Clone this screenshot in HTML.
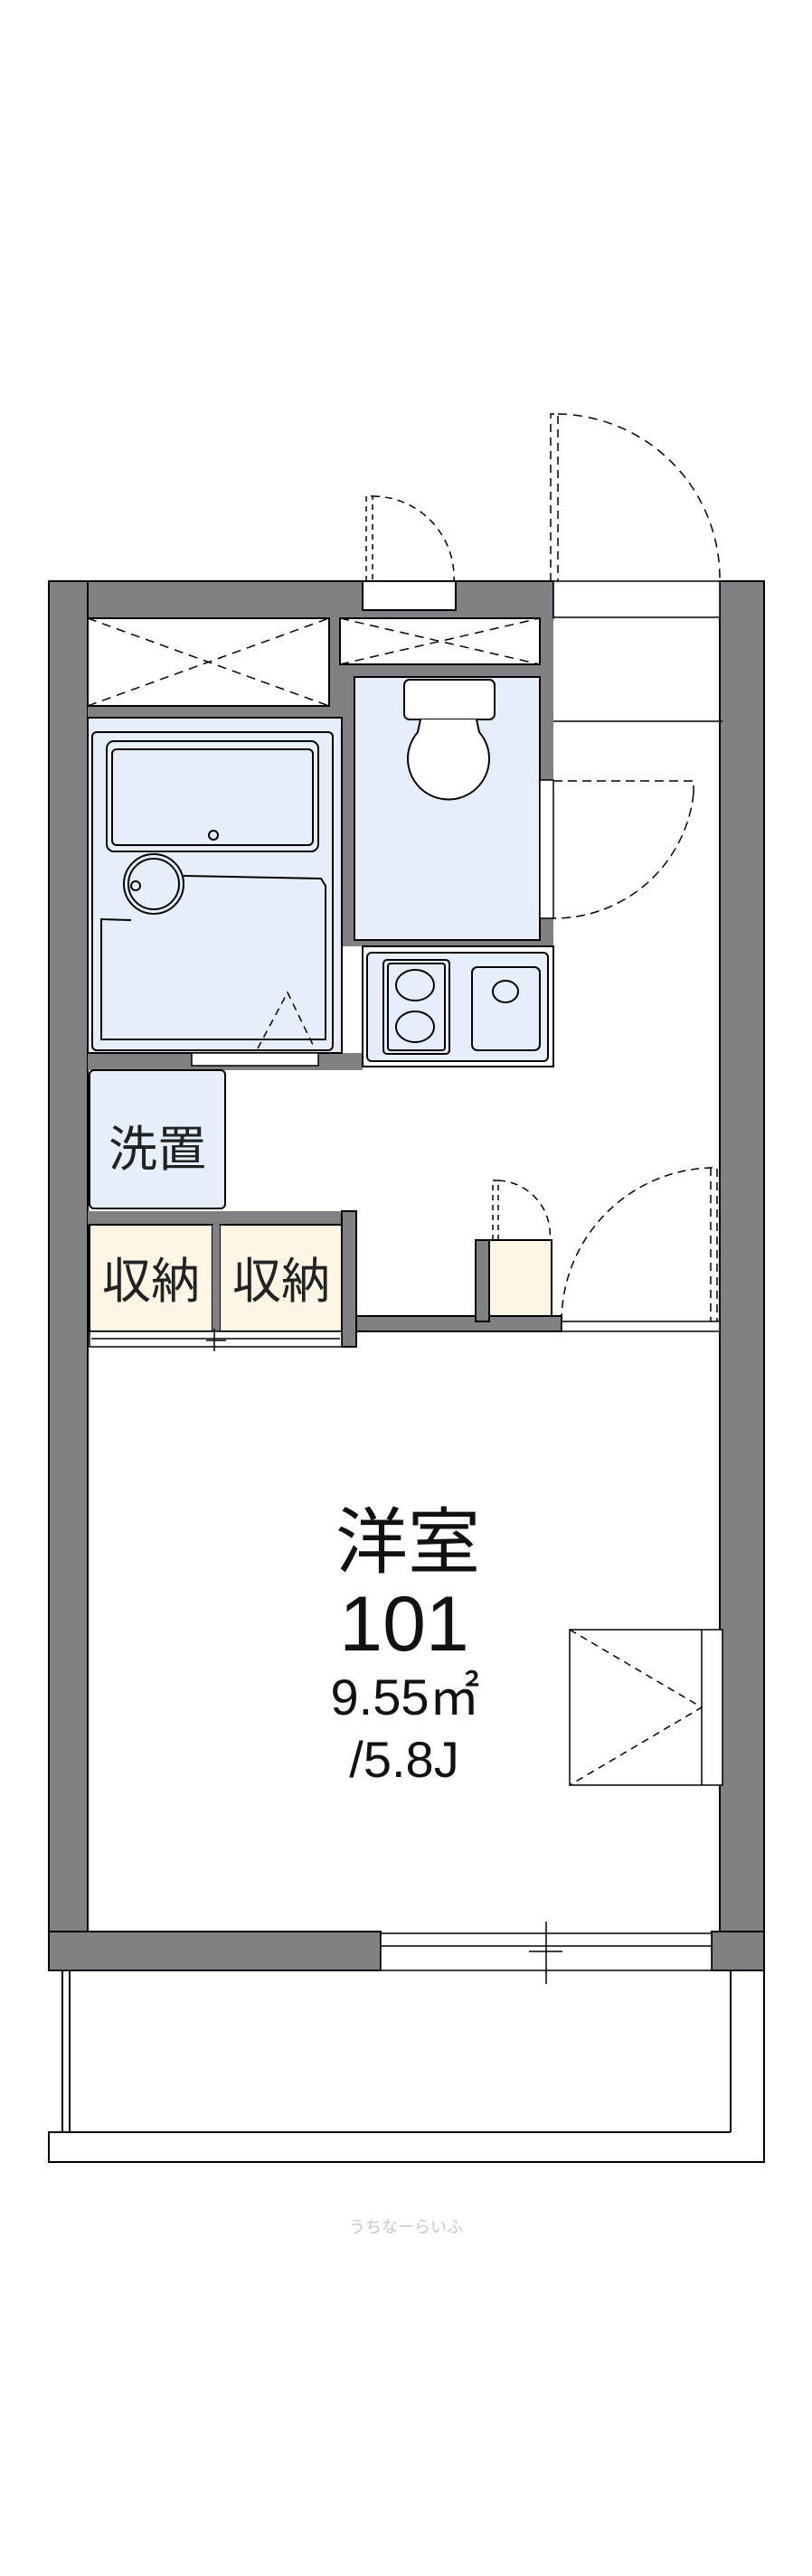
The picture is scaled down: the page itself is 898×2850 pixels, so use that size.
<!DOCTYPE html>
<html><head><meta charset="utf-8"><style>
html,body{margin:0;padding:0;background:#fff;}
svg{display:block;}
text{font-family:"Liberation Sans","Noto Sans CJK JP",sans-serif;}
</style></head><body>
<svg width="898" height="2850" viewBox="0 0 898 2850" xmlns="http://www.w3.org/2000/svg">
<g stroke="#000" stroke-width="2" fill="none">
<rect x="54" y="643" width="558" height="41" fill="#808085"/>
<rect x="796" y="643" width="49" height="1537" fill="#808085"/>
<rect x="54" y="643" width="43" height="1537" fill="#808085"/>
<rect x="54" y="2137" width="367" height="43" fill="#808085"/>
<rect x="787" y="2137" width="58" height="43" fill="#808085"/>
<rect x="97" y="683" width="515" height="364" fill="#808085" stroke="none"/>
<rect x="97" y="1165" width="304" height="19" fill="#808085" stroke="none"/>
<rect x="401" y="643" width="103" height="32" fill="#fff"/>
<rect x="97" y="684" width="267" height="97" fill="#fff"/>
<path d="M97 684 L364 781 M97 781 L364 684" stroke-dasharray="10,7" stroke-width="1.5"/>
<rect x="376" y="684" width="221" height="51" fill="#fff"/>
<path d="M376 684 L597 735 M376 735 L597 684" stroke-dasharray="10,7" stroke-width="1.5"/>
<rect x="392" y="749" width="205" height="291" fill="#e6eefc"/>
<rect x="447" y="752" width="100" height="44" rx="6" fill="#fff"/>
<path d="M465 796 L462 810 A45 45 0 1 0 530 810 L527 796" fill="#fff"/>
<rect x="597" y="863" width="15" height="153" fill="#fff" stroke-width="1.5"/>
<path d="M612 864 L767 864 L767 878" stroke-dasharray="10,6" stroke-width="1.5"/>
<path d="M767 878 A155 155 0 0 1 612 1016" stroke-dasharray="10,6" stroke-width="1.5"/>
<rect x="97" y="794" width="281" height="371" fill="#e6eefc"/>
<rect x="102" y="810" width="266" height="352" rx="5"/>
<rect x="118" y="820" width="234" height="122" rx="8"/>
<rect x="124" y="829" width="222" height="106" rx="5"/>
<circle cx="236" cy="924" r="5"/>
<circle cx="170" cy="978" r="33" fill="#e6eefc"/>
<circle cx="170" cy="978" r="28"/>
<circle cx="150" cy="980" r="5"/>
<path d="M203 969 L355 972 L360 980 L360 1150 L112 1150 L112 1017 L145 1018"/>
<path d="M285 1160 L318 1098 L348 1160" stroke-dasharray="8,6" stroke-width="1.5"/>
<rect x="212" y="1165" width="140" height="14" fill="#fff" stroke-width="1.5"/>
<rect x="401" y="1047" width="211" height="133" fill="#fff"/>
<rect x="406" y="1054" width="200" height="120" rx="5" fill="#e6eefc"/>
<rect x="424" y="1062" width="73" height="104" rx="4"/>
<rect x="429" y="1066" width="63" height="96" rx="3"/>
<ellipse cx="459" cy="1090" rx="21" ry="17"/>
<ellipse cx="459" cy="1136" rx="21" ry="17"/>
<rect x="522" y="1070" width="75" height="92" rx="6"/>
<ellipse cx="559" cy="1097" rx="14" ry="12"/>
<rect x="99" y="1184" width="150" height="153" rx="5" fill="#e6eefc"/>
<rect x="97" y="1340" width="297" height="15" fill="#808085" stroke="none"/>
<rect x="378" y="1340" width="16" height="150" fill="#808085"/>
<rect x="99" y="1355" width="136" height="118" fill="#fdf6e6"/>
<rect x="243" y="1355" width="135" height="118" fill="#fdf6e6"/>
<rect x="235" y="1355" width="8" height="118" fill="#808085" stroke="none"/>
<rect x="99" y="1473" width="279" height="17" fill="#fff" stroke-width="1.5"/>
<path d="M101 1481 L376 1481 M237 1470 L237 1495 M228 1483 L250 1483" stroke-width="1.5"/>
<rect x="394" y="1456" width="227" height="17" fill="#808085"/>
<rect x="526" y="1372" width="15" height="90" fill="#808085"/>
<rect x="541" y="1372" width="69" height="84" fill="#fdf6e6"/>
<path d="M545 1372 L545 1306 L551 1306 L551 1372" stroke-dasharray="6,5" stroke-width="1.5"/>
<path d="M551 1306 A60 60 0 0 1 608 1372" stroke-dasharray="8,6" stroke-width="1.5"/>
<rect x="621" y="1462" width="175" height="11" fill="#fff" stroke-width="1.5"/>
<path d="M621 1462 A170 170 0 0 1 786 1292 L793 1292 L793 1462 M786 1292 L786 1462" stroke-dasharray="9,6" stroke-width="1.5"/>
<rect x="612" y="643" width="184" height="40" fill="#fff" stroke-width="1.5"/>
<path d="M612 798 L799 798" stroke-width="1.5"/>
<path d="M609 643 L609 458 L617 458 L617 643" stroke-dasharray="9,6" stroke-width="1.5"/>
<path d="M617 458 A182 182 0 0 1 796 643" stroke-dasharray="10,7" stroke-width="1.5"/>
<path d="M405 643 L405 549 L412 549 L412 643" stroke-dasharray="6,5" stroke-width="1.5"/>
<path d="M412 549 A90 90 0 0 1 502 643" stroke-dasharray="8,6" stroke-width="1.5"/>
<rect x="630" y="1803" width="169" height="172" fill="#fff" stroke-width="1.5"/>
<path d="M776 1803 L776 1975" stroke-width="1.5"/>
<path d="M630 1803 L776 1889 L630 1975" stroke-dasharray="8,6" stroke-width="1.5"/>
<rect x="421" y="2139" width="366" height="41" fill="#fff" stroke-width="1.5"/>
<path d="M421 2153 L787 2153 M604 2126 L604 2195 M585 2159 L622 2159" stroke-width="1.5"/>
<path d="M69 2180 L69 2359 M77 2180 L77 2359 M808 2180 L808 2359 M845 2180 L845 2392 L54 2392 L54 2359 L808 2359" stroke-width="2"/>
</g>
<text x="174" y="1290" font-size="54" fill="#222" text-anchor="middle">洗置</text>
<text x="167" y="1436" font-size="54" fill="#222" text-anchor="middle">収納</text>
<text x="311" y="1436" font-size="54" fill="#222" text-anchor="middle">収納</text>
<text x="451" y="1734" font-size="80" fill="#111" text-anchor="middle">洋室</text>
<text x="447" y="1826" font-size="86" fill="#111" text-anchor="middle">101</text>
<text x="448" y="1897" font-size="56" fill="#111" text-anchor="middle">9.55㎡</text>
<text x="447" y="1966" font-size="56" fill="#111" text-anchor="middle">/5.8J</text>
<text x="449" y="2470" font-size="18" fill="#c8c8c8" text-anchor="middle">うちなーらいふ</text>
</svg>
</body></html>
